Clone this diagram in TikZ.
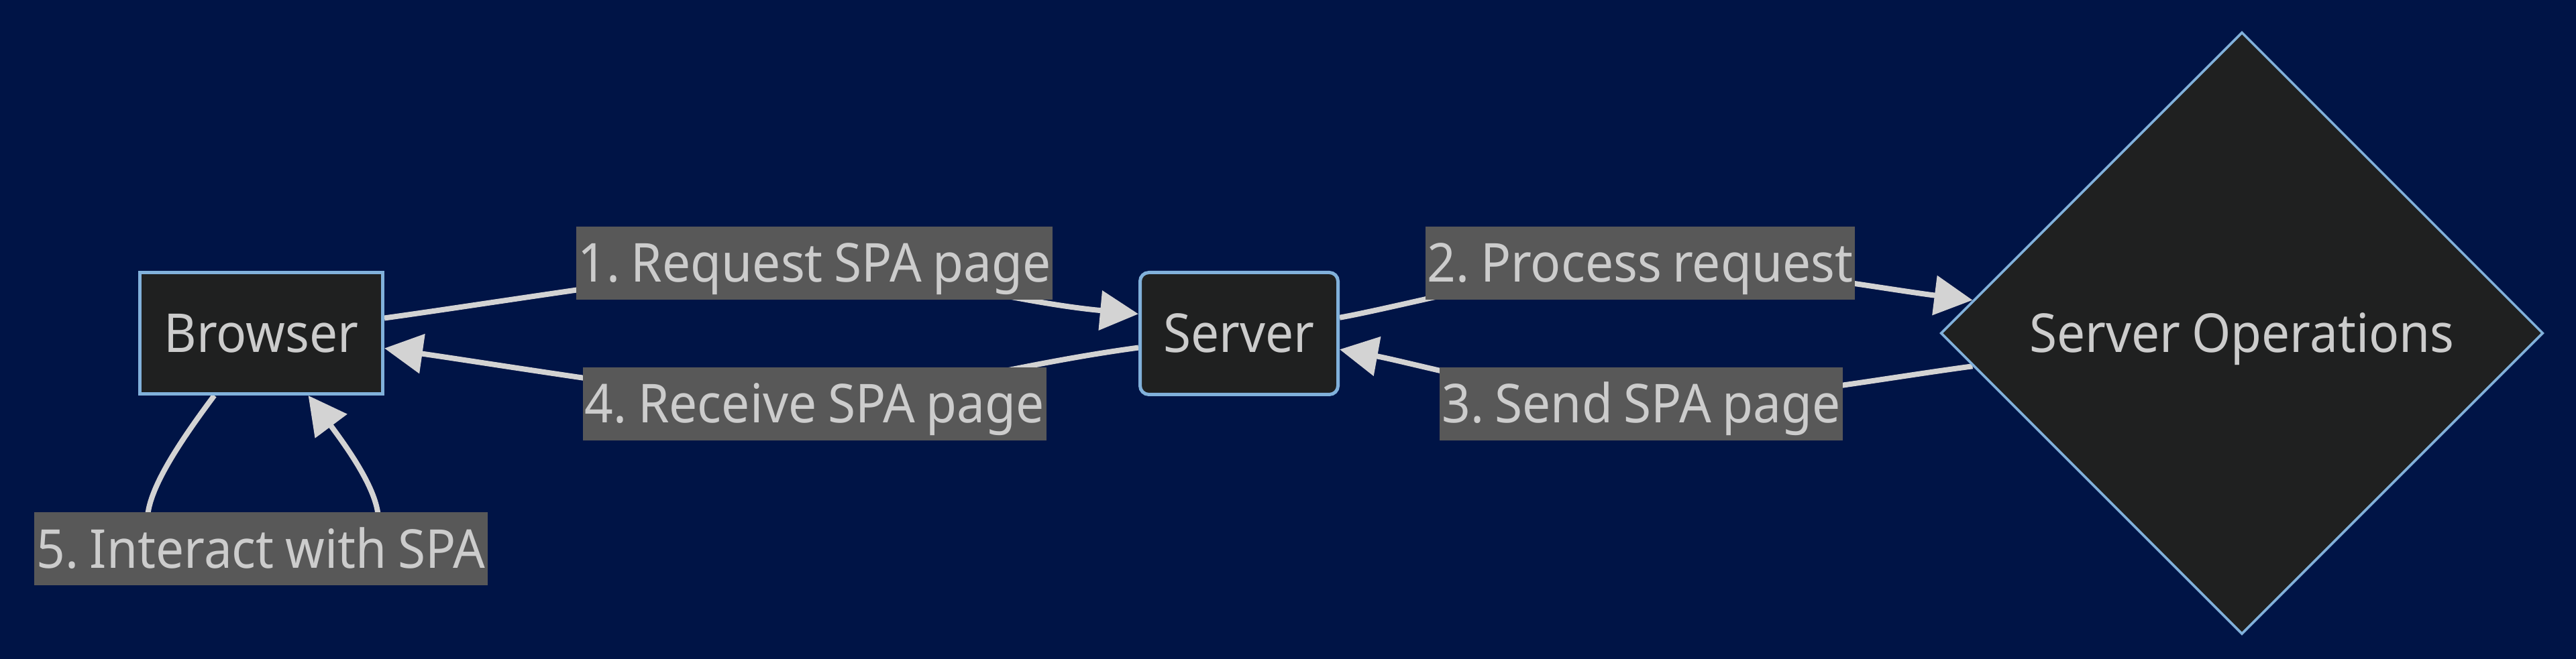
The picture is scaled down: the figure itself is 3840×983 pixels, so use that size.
\documentclass[tikz,border=0pt]{standalone}
\usepackage{fontspec}
\setmainfont{Noto Sans}[FakeStretch=0.935,WordSpace=0.85]
\frenchspacing
\usetikzlibrary{shapes.geometric,arrows.meta}
\definecolor{bgnavy}{HTML}{001446}
\definecolor{nodefill}{HTML}{1F2020}
\definecolor{nodeborder}{HTML}{81B1DB}
\definecolor{txt}{HTML}{CCCCCC}
\definecolor{edgecol}{HTML}{D3D3D3}
\definecolor{lblbg}{HTML}{585858}
\pgfdeclarelayer{bg}
\pgfsetlayers{bg,main}
\tikzset{
  fnt/.style={font=\fontsize{40pt}{48pt}\selectfont\frenchspacing, text height=28.5pt, text depth=0pt},
  boxnode/.style={fnt, draw=nodeborder, line width=2.5pt, fill=nodefill, text=txt, inner sep=0pt},
  opsnode/.style={fnt, diamond, shape aspect=1, draw=nodeborder, line width=1.8pt, fill=nodefill, text=txt, inner sep=0pt, minimum width=449pt, minimum height=449pt},
  lbl/.style={fnt, fill=lblbg, text=txt, inner xsep=1.5pt, inner ysep=0pt, minimum height=54.5pt},
  edge/.style={draw=edgecol, line width=4pt, -{Triangle[length=28.5pt,width=29pt]}},
}
\begin{document}
\begin{tikzpicture}[x=0.5pt,y=-0.5pt]
\begin{pgfonlayer}{bg}
\fill[bgnavy] (0,0) rectangle (3840,983);
\end{pgfonlayer}
\useasboundingbox (0,0) rectangle (3840,983);
\node[boxnode, minimum width=181pt, minimum height=90.5pt] (browser) at (389.5,497) {Browser};
\node[boxnode, rounded corners=6.5pt, minimum width=147.5pt, minimum height=91pt] (server) at (1847,497.5) {Server};
\node[opsnode] (ops) at (3342,497) {Server Operations};
\node[lbl] (l1) at (1214,392.5) {1. Request SPA page};
\node[lbl] (l2) at (2445,392.5) {2. Process request};
\node[lbl] (l3) at (2446.5,602.5) {3. Send SPA page};
\node[lbl] (l4) at (1214.5,602.5) {4. Receive SPA page};
\node[lbl] (l5) at (389,818.5) {5. Interact with SPA};
\begin{pgfonlayer}{bg}
\draw[edge] (browser.7.55) .. controls (750,450) and (1100,392.5) .. (l1.center) .. controls (1300,392.5) and (1500,450) .. (server.169.4);
\draw[edge] (server.9.4) .. controls (2100,455) and (2330,392.5) .. (l2.center) .. controls (2600,392.5) and (2800,430) .. (ops.173.5);
\draw[edge] (ops.187) .. controls (2800,565) and (2600,602.5) .. (l3.center) .. controls (2330,602.5) and (2100,540) .. (server.-9.8);
\draw[edge] (server.188.7) .. controls (1500,545) and (1300,602.5) .. (l4.center) .. controls (1100,602.5) and (750,545) .. (browser.-7.86);
\draw[edge] (browser.-127) .. controls (200,750) and (150,860) .. (l5.center) .. controls (629,860) and (579,750) .. (browser.-53);
\end{pgfonlayer}
\end{tikzpicture}
\end{document}
